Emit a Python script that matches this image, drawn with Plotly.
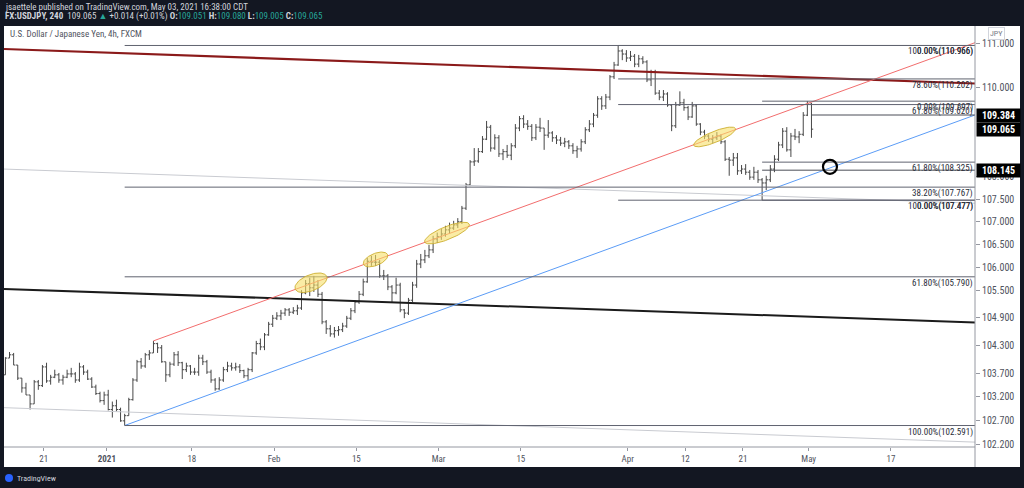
import math
import pandas as pd
import plotly.graph_objects as go

# ---------------- data (12-hour bars, two per trading day) ----------------
first_open = 103.60
closes = [
    103.67, 104.03, 104.10, 103.88, 103.60, 103.39, 103.24, 103.05, 103.52, 103.44,
    103.84, 103.54, 103.62, 103.67, 103.56, 103.62, 103.69, 103.69, 103.56, 103.84,
    103.73, 103.58, 103.41, 103.27, 103.12, 103.24, 102.93, 103.01, 102.93, 102.69,
    102.80, 103.14, 103.56, 103.95, 103.86, 104.10, 104.14, 104.34, 104.25, 103.95,
    103.67, 103.90, 104.10, 103.93, 103.78, 103.86, 103.73, 103.73, 104.03, 103.95,
    103.73, 103.56, 103.37, 103.56, 103.78, 103.86, 103.82, 103.84, 103.76, 103.65,
    103.78, 104.14, 104.34, 104.27, 104.53, 104.76, 104.89, 104.94, 105.00, 105.07,
    105.02, 105.05, 105.11, 105.44, 105.64, 105.55, 105.61, 105.41, 104.81, 104.66,
    104.55, 104.62, 104.64, 104.72, 104.89, 105.05, 105.24, 105.41, 105.68, 106.13,
    106.11, 106.11, 105.81, 105.81, 105.57, 105.44, 105.61, 105.07, 105.00, 105.28,
    105.61, 106.07, 106.16, 106.25, 106.38, 106.62, 106.67, 106.73, 106.82, 106.86,
    106.93, 107.00, 107.30, 107.82, 108.33, 108.35, 108.56, 108.84, 109.11, 108.64,
    108.87, 108.51, 108.56, 108.48, 108.69, 109.09, 109.30, 109.18, 109.13, 108.87,
    109.11, 109.09, 108.93, 108.98, 108.87, 108.82, 108.75, 108.78, 108.69, 108.58,
    108.62, 108.78, 109.05, 109.18, 109.38, 109.75, 109.59, 109.79, 110.25, 110.52,
    110.84, 110.77, 110.68, 110.72, 110.54, 110.66, 110.59, 110.18, 110.36, 109.88,
    109.79, 109.86, 109.61, 109.14, 109.61, 109.66, 109.55, 109.34, 109.59, 109.18,
    109.00, 108.91, 108.84, 108.87, 108.91, 108.78, 108.39, 108.37, 108.42, 108.13,
    108.17, 108.10, 107.99, 108.10, 107.93, 107.86, 107.93, 108.17, 108.39, 108.71,
    109.02, 108.60, 108.91, 108.89, 108.95, 109.38, 109.63, 109.065,
]
highs = [
    103.73, 104.05, 104.16, 104.14, 103.88, 103.60, 103.50, 103.24, 103.56, 103.56,
    103.88, 103.93, 103.67, 103.78, 103.71, 103.67, 103.78, 103.82, 103.73, 103.93,
    103.88, 103.78, 103.62, 103.46, 103.31, 103.31, 103.35, 103.10, 103.14, 102.97,
    102.84, 103.18, 103.60, 103.99, 104.03, 104.14, 104.20, 104.40, 104.36, 104.31,
    103.95, 103.95, 104.16, 104.18, 103.95, 103.93, 103.88, 103.82, 104.10, 104.10,
    103.99, 103.78, 103.60, 103.62, 103.84, 103.95, 103.93, 103.93, 103.90, 103.78,
    103.82, 104.16, 104.40, 104.45, 104.57, 104.81, 104.96, 105.02, 105.07, 105.11,
    105.11, 105.13, 105.18, 105.50, 105.72, 105.77, 105.81, 105.72, 105.46, 104.85,
    104.74, 104.70, 104.72, 104.79, 104.94, 105.11, 105.28, 105.48, 105.75, 106.20,
    106.25, 106.27, 106.16, 105.94, 105.85, 105.61, 105.77, 105.66, 105.09, 105.33,
    105.68, 106.16, 106.29, 106.38, 106.49, 106.69, 106.76, 106.84, 106.91, 106.98,
    107.02, 107.08, 107.35, 107.86, 108.37, 108.64, 108.64, 108.91, 109.25, 109.16,
    108.95, 108.93, 108.62, 108.71, 108.75, 109.18, 109.36, 109.38, 109.27, 109.18,
    109.18, 109.32, 109.09, 109.27, 109.02, 108.93, 108.89, 108.87, 108.82, 108.75,
    108.69, 108.84, 109.11, 109.27, 109.43, 109.81, 109.81, 109.86, 110.29, 110.59,
    110.966, 110.88, 110.86, 110.84, 110.77, 110.75, 110.72, 110.63, 110.41, 110.41,
    109.95, 109.95, 109.90, 109.63, 109.68, 109.92, 109.75, 109.59, 109.68, 109.63,
    109.20, 109.05, 108.95, 108.93, 109.00, 108.95, 108.82, 108.44, 108.53, 108.53,
    108.26, 108.28, 108.15, 108.22, 108.15, 107.97, 108.02, 108.26, 108.48, 108.78,
    109.09, 109.11, 108.98, 109.07, 109.02, 109.45, 109.697, 109.66,
]
lows = [
    103.56, 103.67, 104.03, 103.88, 103.56, 103.29, 103.24, 102.93, 103.05, 103.35,
    103.41, 103.50, 103.46, 103.60, 103.50, 103.46, 103.60, 103.62, 103.50, 103.52,
    103.67, 103.56, 103.39, 103.24, 103.08, 103.03, 102.91, 102.76, 102.89, 102.67,
    102.591, 102.80, 103.12, 103.52, 103.80, 103.82, 103.99, 104.14, 104.14, 103.93,
    103.52, 103.62, 103.86, 103.86, 103.58, 103.73, 103.67, 103.67, 103.65, 103.88,
    103.69, 103.50, 103.33, 103.35, 103.52, 103.73, 103.76, 103.76, 103.71, 103.60,
    103.56, 103.73, 104.10, 104.20, 104.20, 104.51, 104.70, 104.85, 104.85, 104.94,
    104.94, 104.98, 104.96, 105.07, 105.41, 105.37, 105.46, 105.35, 104.76, 104.55,
    104.49, 104.47, 104.51, 104.59, 104.68, 104.85, 105.00, 105.20, 105.37, 105.66,
    106.03, 106.03, 105.77, 105.72, 105.50, 105.24, 105.41, 105.02, 104.89, 104.96,
    105.24, 105.55, 105.98, 106.09, 106.20, 106.31, 106.53, 106.60, 106.67, 106.73,
    106.82, 106.86, 106.95, 107.26, 107.79, 108.24, 108.31, 108.53, 108.82, 108.56,
    108.60, 108.44, 108.37, 108.42, 108.37, 108.64, 109.02, 109.09, 109.05, 108.80,
    108.82, 109.00, 108.60, 108.87, 108.78, 108.73, 108.69, 108.66, 108.62, 108.51,
    108.42, 108.56, 108.73, 109.00, 109.11, 109.32, 109.50, 109.52, 109.72, 110.20,
    110.50, 110.63, 110.59, 110.61, 110.47, 110.47, 110.54, 110.13, 110.04, 109.84,
    109.72, 109.70, 109.57, 109.02, 109.09, 109.59, 109.48, 109.27, 109.32, 109.14,
    108.93, 108.84, 108.78, 108.75, 108.82, 108.73, 108.35, 108.02, 108.24, 108.04,
    108.06, 108.04, 107.93, 107.93, 107.86, 107.477, 107.70, 107.88, 108.10, 108.35,
    108.64, 108.56, 108.44, 108.82, 108.75, 108.91, 109.36, 108.87,
]

first_day = "2020-12-14"
last_day = "2021-05-31"
holidays = ["2020-12-25", "2021-01-01"]

tick_dates = ["2020-12-21", "2021-01-04", "2021-01-18", "2021-02-01", "2021-02-15", "2021-03-01",
              "2021-03-15", "2021-04-01", "2021-04-12", "2021-04-21", "2021-05-03", "2021-05-17"]
tick_text = ["21", "<b>2021</b>", "18", "Feb", "15", "Mar", "15", "Apr", "12", "21", "May", "17"]

price_ticks = [111.0, 110.0, 108.0, 107.5, 107.0, 106.5, 106.0, 105.5, 104.9, 104.3, 103.7, 103.2, 102.7, 102.2]

# drawings: trend lines (bar index / price anchors; None = chart edge)
trend_lines = [
    (None, 110.885, None, 110.098, "#8b1a1a", 2.2),   # dark red
    (None, 105.526, None, 104.797, "#1b1b1b", 2.0),   # black
    (None, 108.17, None, 107.41, "#c9cbd1", 1.0),     # light gray upper
    (None, 102.97, None, 102.24, "#c9cbd1", 1.0),     # light gray lower
    ("s37", 104.40, None, 111.03, "#f26d6d", 1.0),    # red channel line
    ("s30", 102.591, None, 109.384, "#5b9cf6", 1.0),  # blue trend line
]
# fib retracement levels: (start sample, price, label)
fib_levels = [
    (30, 110.966, "0.00%(110.966)"), (30, 107.767, "38.20%(107.767)"),
    (30, 105.790, "61.80%(105.790)"), (30, 102.591, "100.00%(102.591)"),
    (150, 110.966, "100.00%(110.966)"), (150, 110.202, "78.60%(110.202)"),
    (150, 109.620, "61.80%(109.620)"), (150, 107.477, "0.00%(107.477)"),
    (185, 109.697, "0.00%(109.697)"), (185, 108.325, "61.80%(108.325)"),
    (185, 107.477, "100.00%(107.477)"),
]
rays = [(197, 109.384), (185, 108.145)]
price_boxes = [109.384, 109.065, 108.145]
# ellipses: (bar, price, semi-major px, semi-minor px, angle deg)
ellipses = [(226.9, 105.66, 17, 8, 22), (274.0, 106.17, 13, 6, 22),
            (326.1, 106.75, 24, 6.5, 22), (521.3, 108.89, 22.5, 5.5, 22)]
circle_mark = (605.5, 108.22)

# ---------------- layout geometry ----------------
W, H = 1024, 488
ML, MR, MT, MB = 4, 49, 26, 41
PW, PH = W - ML - MR, H - MT - MB
X_LEFT, X_RIGHT = 2.97, 711.3
Y_BOT, Y_TOP = math.log10(102.137), math.log10(111.413)

def px2paper(px):
    return (px - ML) / PW

def py2paper(py):
    return (MT + PH - py) / PH

days = [d for d in pd.bdate_range(first_day, last_day) if d.strftime("%Y-%m-%d") not in holidays]
day_index = {d.strftime("%Y-%m-%d"): i for i, d in enumerate(days)}

def sample_bar(k):
    return 6 * (k // 2) + 3 * (k % 2) + 1

xs = [sample_bar(k) for k in range(len(closes))]
opens = [first_open] + closes[:-1]
hi = [max(h, o, c) for h, o, c in zip(highs, opens, closes)]
lo = [min(l, o, c) for l, o, c in zip(lows, opens, closes)]

tickvals = []
for d, t in zip(tick_dates, tick_text):
    tickvals.append(6 * day_index[d] + (0 if "2021" in t else 2))

fig = go.Figure()

fig.add_trace(go.Ohlc(
    x=xs, open=opens, high=hi, low=lo, close=closes,
    increasing=dict(line=dict(color="#474747", width=1)),
    decreasing=dict(line=dict(color="#474747", width=1)),
    tickwidth=0.42, hoverinfo="skip", showlegend=False,
))

def anchor_x(a, default):
    if a is None:
        return default
    if isinstance(a, str):
        return sample_bar(int(a[1:]))
    return a

for x0, p0, x1, p1, col, wd in trend_lines:
    fig.add_trace(go.Scatter(
        x=[anchor_x(x0, X_LEFT), anchor_x(x1, X_RIGHT)], y=[p0, p1], mode="lines",
        line=dict(color=col, width=wd), hoverinfo="skip", showlegend=False))

for k, p, lab in fib_levels:
    fig.add_trace(go.Scatter(x=[sample_bar(k), X_RIGHT], y=[p, p], mode="lines",
                             line=dict(color="#606370", width=1), hoverinfo="skip", showlegend=False))
for k, p in rays:
    fig.add_trace(go.Scatter(x=[sample_bar(k), X_RIGHT], y=[p, p], mode="lines",
                             line=dict(color="#4a4d57", width=1), hoverinfo="skip", showlegend=False))

# ellipses (computed in pixel space, converted back to data)
sx = PW / (X_RIGHT - X_LEFT)
sy = PH / (Y_TOP - Y_BOT)
for cb, cp, a, b, ang in ellipses:
    th = math.radians(ang)
    ex, ey = [], []
    for i in range(73):
        t = 2 * math.pi * i / 72
        dx = a * math.cos(t) * math.cos(th) - b * math.sin(t) * math.sin(th)
        dy = a * math.cos(t) * math.sin(th) + b * math.sin(t) * math.cos(th)
        ex.append(cb + dx / sx)
        ey.append(10 ** (math.log10(cp) + dy / sy))
    fig.add_trace(go.Scatter(x=ex, y=ey, mode="lines", fill="toself",
                             fillcolor="rgba(247,224,105,0.6)",
                             line=dict(color="rgba(205,175,50,0.9)", width=1),
                             hoverinfo="skip", showlegend=False))

fig.add_trace(go.Scatter(x=[circle_mark[0]], y=[circle_mark[1]], mode="markers",
                         marker=dict(symbol="circle-open", size=14, color="#000000",
                                     line=dict(width=2.2, color="#000000")),
                         hoverinfo="skip", showlegend=False))

FONT = "Liberation Sans Narrow, Roboto Condensed, Roboto, Arial"
ann = []
for k, p, lab in fib_levels:
    ann.append(dict(x=px2paper(974), xref="paper", y=math.log10(p), yref="y", text=lab,
                    xanchor="right", yanchor="top", showarrow=False, borderpad=0,
                    font=dict(size=9, color="#2a2e39", family=FONT)))
for p in price_boxes:
    ann.append(dict(x=px2paper(998), xref="paper", y=math.log10(p), yref="y",
                    text="<b>%.3f</b>" % p, xanchor="center", yanchor="middle", showarrow=False,
                    bgcolor="#000000", width=43, height=13, borderpad=0,
                    font=dict(size=10, color="#ffffff", family=FONT)))
ann.append(dict(x=px2paper(997), xref="paper", y=py2paper(33), yref="paper", text="JPY",
                showarrow=False, xanchor="center", yanchor="middle", bordercolor="#d1d4dc",
                borderwidth=1, borderpad=1, font=dict(size=8, color="#787b86", family=FONT)))
ann.append(dict(x=px2paper(8), xref="paper", y=py2paper(34), yref="paper",
                text="U.S. Dollar / Japanese Yen, 4h, FXCM", showarrow=False,
                xanchor="left", yanchor="middle", font=dict(size=9, color="#50535e", family=FONT)))
ann.append(dict(x=px2paper(3), xref="paper", y=py2paper(7), yref="paper",
                text="jsaettele published on TradingView.com, May 03, 2021 16:38:00 CDT",
                showarrow=False, xanchor="left", yanchor="middle",
                font=dict(size=9, color="#d1d4dc", family=FONT)))
teal = "#26a69a"
hdr2 = ("<b>FX:USDJPY, 240</b>  109.065 <span style='color:%s'>▲</span> +0.014 (+0.01%%) "
        "<b>O:</b><span style='color:%s'>109.051</span> <b>H:</b><span style='color:%s'>109.080</span> "
        "<b>L:</b><span style='color:%s'>109.005</span> <b>C:</b><span style='color:%s'>109.065</span>"
        % (teal, teal, teal, teal, teal))
ann.append(dict(x=px2paper(3), xref="paper", y=py2paper(17), yref="paper", text=hdr2,
                showarrow=False, xanchor="left", yanchor="middle",
                font=dict(size=9, color="#d1d4dc", family=FONT)))
ann.append(dict(x=px2paper(15), xref="paper", y=py2paper(478), yref="paper", text="TradingView",
                showarrow=False, xanchor="left", yanchor="middle",
                font=dict(size=8, color="#d1d4dc", family=FONT)))

shapes = [
    dict(type="rect", xref="paper", yref="paper", x0=px2paper(4), x1=px2paper(1020),
         y0=py2paper(467), y1=py2paper(26), fillcolor="#ffffff", line=dict(width=0), layer="below"),
    dict(type="line", xref="paper", yref="paper", x0=px2paper(975), x1=px2paper(975),
         y0=py2paper(467), y1=py2paper(26), line=dict(color="#9598a1", width=1)),
    dict(type="line", xref="paper", yref="paper", x0=px2paper(4), x1=px2paper(975),
         y0=py2paper(447), y1=py2paper(447), line=dict(color="#9598a1", width=1)),
    dict(type="circle", xref="paper", yref="paper", x0=px2paper(5), x1=px2paper(13),
         y0=py2paper(482), y1=py2paper(474), fillcolor="#2962ff", line=dict(width=0)),
]

fig.update_layout(
    width=W, height=H, margin=dict(l=ML, r=MR, t=MT, b=MB),
    paper_bgcolor="#131722", plot_bgcolor="#ffffff",
    showlegend=False, annotations=ann, shapes=shapes,
    xaxis=dict(range=[X_LEFT, X_RIGHT], tickvals=tickvals, ticktext=tick_text,
               showgrid=False, zeroline=False, showline=False, rangeslider=dict(visible=False),
               ticks="outside", ticklen=3, tickcolor="#9598a1",
               tickfont=dict(size=9, color="#50535e", family=FONT)),
    yaxis=dict(type="log", range=[Y_BOT, Y_TOP], side="right", tickvals=price_ticks,
               ticktext=["%.3f" % v for v in price_ticks], showgrid=False, zeroline=False,
               showline=False, ticks="outside", ticklen=4, tickcolor="#9598a1",
               tickfont=dict(size=10, color="#50535e", family=FONT)),
)

fig.write_html("out.html", config={"displayModeBar": False},
               post_script="document.body.style.margin='0';document.body.style.overflow='hidden';"
                           "document.body.style.background='#131722';")
